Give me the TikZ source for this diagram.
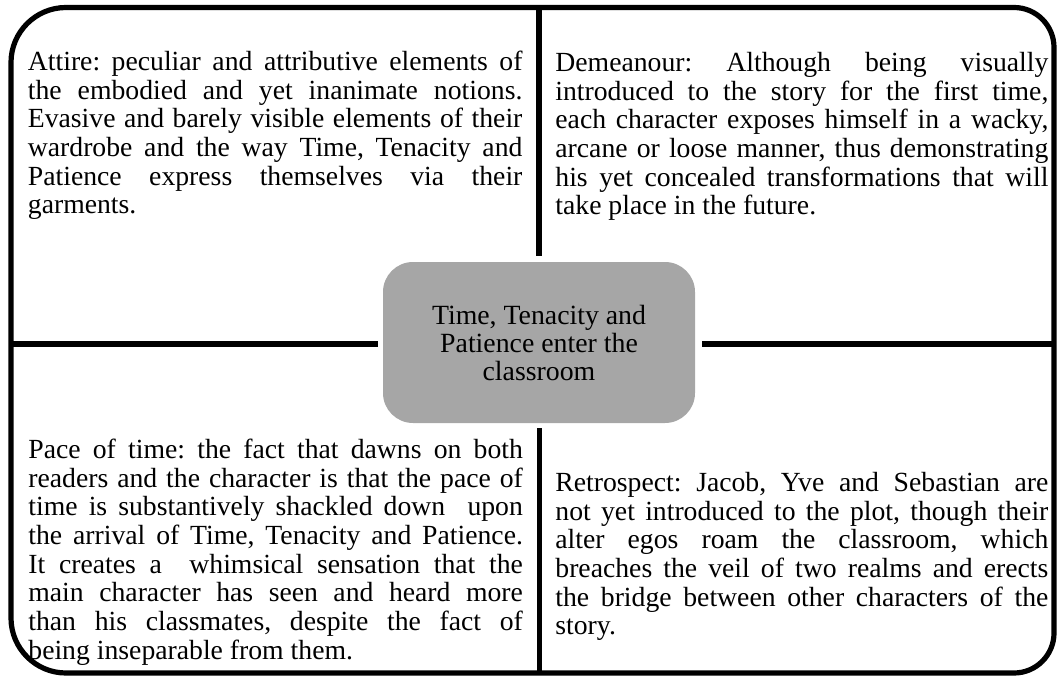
\documentclass[tikz,border=0pt]{standalone}
\usepackage{fontspec}
\setmainfont{Liberation Serif}
\definecolor{coregray}{HTML}{A6A6A6}
% a full-width justified line, and a ragged closing line,
% both with the font's own stretchable interword space
\newcommand{\jline}[1]{\makebox[\hsize][s]{\spaceskip=0pt\xspaceskip=0pt\strut #1}\\}
\newcommand{\lline}[1]{\spaceskip=0pt\xspaceskip=0pt\strut #1}
\begin{document}
\begin{tikzpicture}[x=0.5pt,y=-0.5pt,
  frame/.style={line width=2.6pt},
  divider/.style={line width=2.7pt},
  panel/.style={anchor=north west, inner sep=0pt, align=left,
    font=\fontsize{13.85}{14.35}\selectfont\frenchspacing},
  corebox/.style={fill=coregray, draw=none, rounded corners=15pt,
    minimum width=156pt, minimum height=80.5pt, inner sep=0pt,
    align=center, font=\fontsize{13.9}{14}\selectfont}]
\useasboundingbox (0,0) rectangle (1059,679);

% outer frame with softer corners on the left
\draw[frame] (11,300) [rounded corners=27.5pt] -- (11,7.5) -- (600,7.5)
  [rounded corners=20pt] -- (1054,7.5) -- (1054,673) -- (600,673)
  [rounded corners=27.5pt] -- (11,673) -- cycle;

% central topic
\node[corebox] (core) at (539,342.5) {Time, Tenacity and\\Patience enter the\\classroom};

% divider ends on the frame
\coordinate (ntop) at (539,7.5);
\coordinate (nbot) at (539.5,673);
\coordinate (nleft) at (11,344);
\coordinate (nright) at (1054,344);

\draw[divider, shorten >=3pt] (ntop) -- (core.north);
\draw[divider, shorten >=2.5pt] (nbot) -- (core.south -| nbot);
\draw[divider, shorten >=2.5pt] (nleft) -- (core.west |- nleft);
\draw[divider, shorten >=3.5pt] (nright) -- (core.east |- nright);

% the four quadrants
\node[panel, text width=247.25pt] (attire) at (27.5,50) {%
\jline{Attire: peculiar and attributive elements of}
\jline{the embodied and yet inanimate notions.}
\jline{Evasive and barely visible elements of their}
\jline{wardrobe and the way Time, Tenacity and}
\jline{Patience express themselves via their}
\lline{garments.}};

\node[panel, text width=246.5pt] (demeanour) at (555,51) {%
\jline{Demeanour: Although being visually}
\jline{introduced to the story for the first time,}
\jline{each character exposes himself in a wacky,}
\jline{arcane or loose manner, thus demonstrating}
\jline{his yet concealed transformations that will}
\lline{take place in the future.}};

\node[panel, text width=247.25pt] (pace) at (28,438) {%
\jline{Pace of time: the fact that dawns on both}
\jline{readers and the character is that the pace of}
\jline{time is substantively shackled down\ \ upon}
\jline{the arrival of Time, Tenacity and Patience.}
\jline{It creates a\ \ whimsical sensation that the}
\jline{main character has seen and heard more}
\jline{than his classmates, despite the fact of}
\lline{being inseparable from them.}};

\node[panel, text width=246.5pt] (retro) at (555,471) {%
\jline{Retrospect: Jacob, Yve and Sebastian are}
\jline{not yet introduced to the plot, though their}
\jline{alter egos roam the classroom, which}
\jline{breaches the veil of two realms and erects}
\jline{the bridge between other characters of the}
\lline{story.}};
\end{tikzpicture}
\end{document}
